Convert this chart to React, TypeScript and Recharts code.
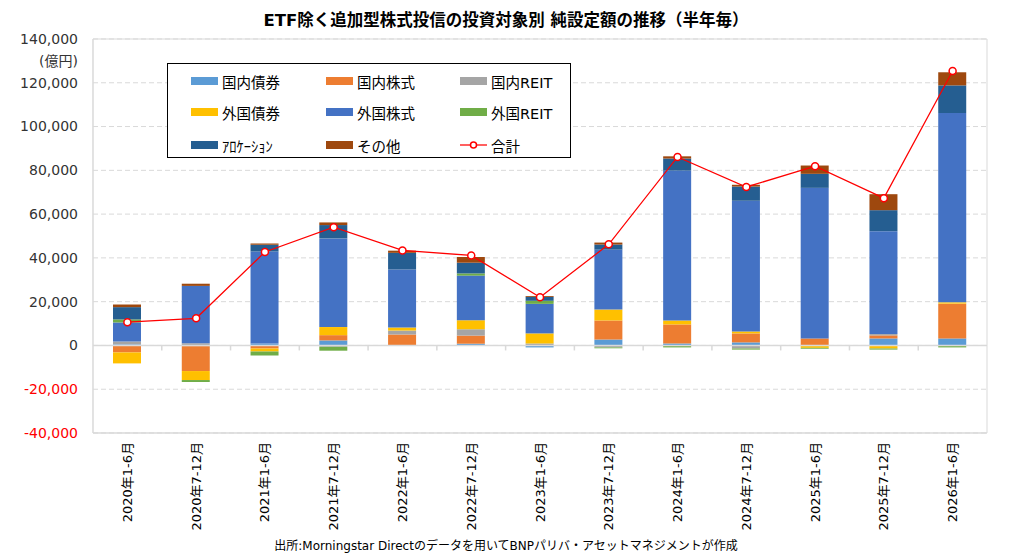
import React from 'react';
import {
    ComposedChart, Bar, Line, XAxis, YAxis, CartesianGrid, ReferenceLine, ReferenceArea, Legend,
} from 'recharts';

// 半年毎の期間
const periods = [
    '2020年1-6月', '2020年7-12月', '2021年1-6月', '2021年7-12月', '2022年1-6月', '2022年7-12月',
    '2023年1-6月', '2023年7-12月', '2024年1-6月', '2024年7-12月', '2025年1-6月', '2025年7-12月', '2026年1-6月',
];

// 純設定額（億円）
const domesticBond = [500, -300, 900, 2300, 0, 800, -900, 2700, 900, 1400, -200, 3200, 3200];
const domesticEquity = [-3200, -11400, -1400, 2400, 5000, 3700, 0, 8700, 8700, 4100, 3200, 1400, 15900];
const domesticReit = [1300, 1000, 0, -600, 1800, 2900, 900, -900, 0, -1400, 0, 600, 0];
const foreignBond = [-5000, -4100, -1400, 3700, 1400, 4100, 4600, 5000, 1800, 900, -900, -1400, 600];
const foreignEquity = [8700, 26200, 42000, 40500, 26500, 20400, 13500, 27400, 68500, 59700, 68800, 47000, 86500];
const foreignReit = [1400, -900, -1800, -1800, 0, 1000, 1400, -400, -900, -500, -400, -500, -900];
const allocation = [5600, 0, 3100, 6100, 7600, 4900, 1800, 2300, 5500, 6500, 6400, 9600, 12600];
const others = [1200, 1000, 600, 1200, 1000, 2600, 400, 900, 1000, 800, 3800, 7300, 6000];
const total = [10600, 12400, 42700, 54000, 43400, 41100, 22000, 46200, 86100, 72400, 81900, 67300, 125400];

const yTicks = [-40000, -20000, 0, 20000, 40000, 60000, 80000, 100000, 120000, 140000];

const series = [
    { key: 'domesticBond', name: '国内債券', color: '#5B9BD5', values: domesticBond },
    { key: 'domesticEquity', name: '国内株式', color: '#ED7D31', values: domesticEquity },
    { key: 'domesticReit', name: '国内REIT', color: '#A5A5A5', values: domesticReit },
    { key: 'foreignBond', name: '外国債券', color: '#FFC000', values: foreignBond },
    { key: 'foreignEquity', name: '外国株式', color: '#4472C4', values: foreignEquity },
    { key: 'foreignReit', name: '外国REIT', color: '#70AD47', values: foreignReit },
    { key: 'allocation', name: 'ｱﾛｹｰｼｮﾝ', color: '#255E91', values: allocation },
    { key: 'others', name: 'その他', color: '#9E480E', values: others },
];

const data = periods.map((period, i) => {
    const row: Record<string, string | number> = { period, total: total[i] };
    series.forEach((s) => { row[s.key] = s.values[i]; });
    return row;
});

const FONT = "'DejaVu Sans', 'Noto Sans CJK JP', sans-serif";
const GRID = '#D9D9D9';

const YTick = ({ y, payload }: any) => (
    <text x={78} y={y} dy="0.35em" textAnchor="end" fontSize={14} fontFamily={FONT}
        fill={payload.value < 0 ? '#FF0000' : '#333333'}>
        {Number(payload.value).toLocaleString('en-US')}
    </text>
);

const XTick = ({ x, payload }: any) => (
    <text transform={`translate(${x + 4.5}, 442) rotate(-90)`} textAnchor="end" fontSize={13}
        fontFamily={FONT} fill="#000000">
        {payload.value}
    </text>
);

// 0の軸線と区切りの目盛り
const ZeroAxis = ({ x1, x2, y1 }: any) => {
    const step = (x2 - x1) / periods.length;
    return (
        <g>
            <line x1={x1} y1={y1} x2={x2} y2={y1} stroke={GRID} strokeWidth={1.5} />
            {periods.slice(1).map((p, i) => (
                <line key={p} x1={x1 + step * (i + 1)} y1={y1} x2={x1 + step * (i + 1)} y2={y1 + 5}
                    stroke={GRID} strokeWidth={1.5} />
            ))}
        </g>
    );
};

const colX = [23, 158, 292];
const rowY = [17, 48, 81];

const LegendBox = () => {
    const items = [...series.map((s) => ({ name: s.name, color: s.color, line: false })),
        { name: '合計', color: '#FF0000', line: true }];
    return (
        <div style={{ position: 'relative', width: 404, height: 95, border: '1px solid #000', background: '#fff', boxSizing: 'border-box' }}>
            {items.map((it, i) => {
                const left = colX[i % 3];
                const top = rowY[Math.floor(i / 3)];
                return (
                    <div key={it.name} style={{ position: 'absolute', left, top: top - 10, height: 20, display: 'flex', alignItems: 'center', whiteSpace: 'nowrap' }}>
                        {it.line ? (
                            <svg width={27} height={10}>
                                <line x1={0} y1={5} x2={27} y2={5} stroke="#FF0000" strokeWidth={1.25} />
                                <circle cx={13.5} cy={5} r={3} fill="#fff" stroke="#FF0000" strokeWidth={1.5} />
                            </svg>
                        ) : (
                            <div style={{ width: 27, height: 8, background: it.color }} />
                        )}
                        <span style={{ marginLeft: 4, fontSize: 14.5, fontFamily: FONT, color: '#000' }}>{it.name}</span>
                    </div>
                );
            })}
        </div>
    );
};

export default function App() {
    return (
        <div style={{ position: 'relative', width: 1012, height: 558, background: '#fff', fontFamily: FONT }}>
            <style>{'body{margin:0}'}</style>
            <div style={{ position: 'absolute', left: 0, width: 1012, top: 7, textAlign: 'center', fontSize: 16.5, fontWeight: 'bold', color: '#000' }}>
                ETF除く追加型株式投信の投資対象別 純設定額の推移（半年毎）
            </div>
            <div style={{ position: 'absolute', right: 1012 - 78, top: 50, fontSize: 14, color: '#333' }}>(億円)</div>
            <ComposedChart width={1012} height={558} data={data} stackOffset="sign"
                margin={{ top: 39, right: 25, bottom: 0, left: 0 }}>
                <ReferenceArea y1={-40000} y2={140000} fill="none" stroke={GRID} strokeWidth={1} />
                <CartesianGrid vertical={false} stroke={GRID} strokeDasharray="5 3" />
                <XAxis dataKey="period" height={125} interval={0} tick={<XTick />} tickLine={false}
                    axisLine={{ stroke: GRID }} />
                <YAxis width={93} domain={[-40000, 140000]} ticks={yTicks} tick={<YTick />}
                    tickLine={false} axisLine={{ stroke: GRID }} allowDataOverflow />
                {series.map((s) => (
                    <Bar key={s.key} dataKey={s.key} name={s.name} stackId="a" fill={s.color} barSize={28}
                        isAnimationActive={false} />
                ))}
                <ReferenceLine y={0} shape={<ZeroAxis />} />
                <Line dataKey="total" name="合計" stroke="#FF0000" strokeWidth={1.25}
                    dot={{ r: 3.5, fill: '#fff', stroke: '#FF0000', strokeWidth: 1.5 }} isAnimationActive={false} />
                <Legend verticalAlign="middle" align="center" content={<LegendBox />}
                    wrapperStyle={{ left: 167, top: 63, width: 404, height: 95 }} />
            </ComposedChart>
            <div style={{ position: 'absolute', left: 0, width: 1012, top: 536, textAlign: 'center', fontSize: 12, color: '#000' }}>
                出所:Morningstar Directのデータを用いてBNPパリバ・アセットマネジメントが作成
            </div>
        </div>
    );
}
